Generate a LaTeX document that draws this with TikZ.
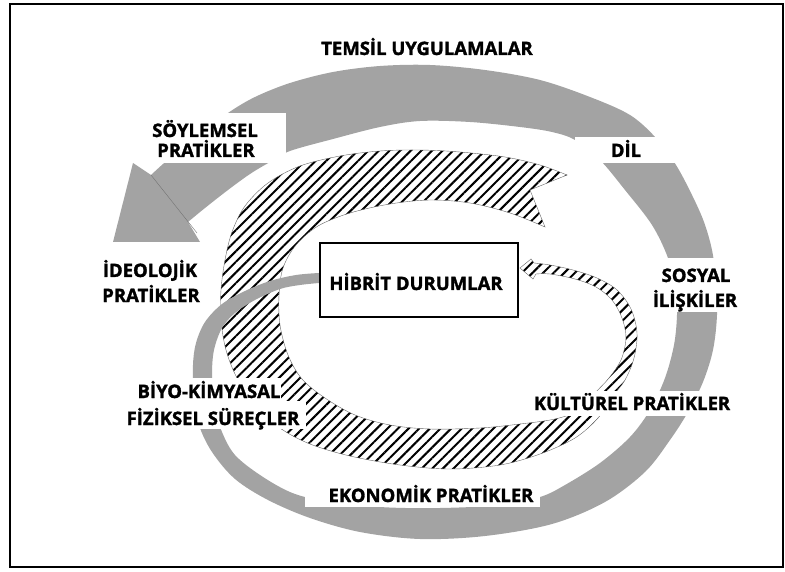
\documentclass[tikz,border=0pt]{standalone}
\usepackage{fontspec}
\setmainfont{Open Sans}[BoldFont={Open Sans Bold}, BoldFeatures={FakeBold=1.6}]
\usetikzlibrary{patterns.meta}
\begin{document}
\begin{tikzpicture}[x=1pt,y=-1pt,
  lab/.style={font=\fontsize{18.5}{18.5}\selectfont\bfseries, inner sep=0pt, anchor=base},
  grayband/.style={fill=black!36},
  hatchband/.style={pattern={Lines[angle=45,distance=7.5pt,line width=2pt]}, draw=black!60, line width=0.4pt},
  mask/.style={fill=white},
  mainbox/.style={draw=black, line width=2.2pt, fill=white}]
\useasboundingbox (0,0) rectangle (785,572);
\draw[line width=1.5pt] (10,4) rectangle (783,567);

% hatched spiral band
\path[hatchband] plot[smooth,tension=0.55] coordinates {(567,175) (540,165) (505,157) (460,152) (420,150) (380,151) (340,156) (300,166) (268,183) (245,206) (232,232) (225,260) (221,290) (221,320) (226,350) (237,378) (255,405) (280,428) (310,444) (350,456) (400,465) (450,469) (500,465) (540,454) (575,438) (598,418) (612,397) (625,380) (634,358) (637,333) (631,309) (617,290) (597,278) (573,270) (550,265) (534,263)}
  -- (531,259) -- (520,268) -- (533,279) --
  plot[smooth,tension=0.55] coordinates {(536,274) (550,274) (575,279) (596,287) (612,300) (622,318) (626,338) (621,360) (609,378) (595,393) (580,410) (555,419) (520,424) (480,428) (430,429) (390,425) (355,415) (325,398) (302,379) (288,355) (280,325) (279,295) (283,268) (296,245) (318,226) (350,213) (390,204) (430,200) (470,203) (510,213) (545,227)}
  -- (530,190) -- cycle;

% gray band with arrowhead
\path[grayband] plot[smooth,tension=0.55] coordinates {(319,273) (296,275) (270,281) (245,291) (222,304) (205,322) (196,343) (193,365) (194,395) (199,425) (212,452) (235,479) (268,500) (310,518) (360,532) (420,539) (485,536) (552,524) (605,502) (645,472) (670,440) (688,412) (703,382) (713,350) (717,315) (716,280) (712,250) (704,222) (692,195) (676,165) (656,138) (630,115) (590,97) (540,80) (485,70) (430,65) (380,66) (333,72) (290,83) (255,97) (228,113) (200,135) (170,158) (151,175)}
  -- (133,163) -- (113,242) -- (200,242) -- (188,222) --
  plot[smooth,tension=0.55] coordinates {(188,222) (205,208) (228,190) (250,174) (270,162) (290,151) (333,139) (380,127) (420,121) (470,122) (520,127) (552,132) (575,140) (600,160) (625,190) (652,225) (668,258) (676,290) (677,315) (674,345) (665,378) (650,410) (630,437) (600,463) (565,485) (540,497) (500,505) (440,508) (380,507) (320,500) (290,492) (260,475) (235,455) (222,432) (214,405) (212,375) (214,350) (222,328) (235,313) (255,300) (280,289) (300,285) (319,283)}
  -- cycle;
\draw[black!55, line width=0.4pt] (151,175) -- (197,233);

% masks behind labels
\fill[mask] (140,113) rectangle (286,163);
\fill[mask] (575,137) rectangle (725,163);
\fill[mask] (640,258) rectangle (760,312);
\fill[mask] (527,391) rectangle (740,416);
\fill[mask] (305,483) rectangle (540,507);
\fill[mask] (138,378) rectangle (281,401);
\fill[mask] (121,401) rectangle (306,429);

% central box
\node[mainbox, minimum width=198pt, minimum height=74pt, inner sep=0pt] (hib) at (419,280) {};
\node[lab] (hibt) at (416,290) {HİBRİT DURUMLAR};

% labels
\node[lab] (temsil) at (427,55) {TEMSİL UYGULAMALAR};
\node[lab] (soy1) at (205,137) {SÖYLEMSEL};
\node[lab] (soy2) at (206,157) {PRATİKLER};
\node[lab] (dil) at (626,157) {DİL};
\node[lab] (ideo1) at (150,277) {İDEOLOJİK};
\node[lab] (ideo2) at (151,302) {PRATİKLER};
\node[lab] (sos1) at (696,282) {SOSYAL};
\node[lab] (sos2) at (695,307) {İLİŞKİLER};
\node[lab] (biyo1) at (209,398) {BİYO-KİMYASAL};
\node[lab] (biyo2) at (213,425) {FİZİKSEL SÜREÇLER};
\node[lab] (kult) at (632,410) {KÜLTÜREL PRATİKLER};
\node[lab] (eko) at (431,502) {EKONOMİK PRATİKLER};
\end{tikzpicture}
\end{document}
